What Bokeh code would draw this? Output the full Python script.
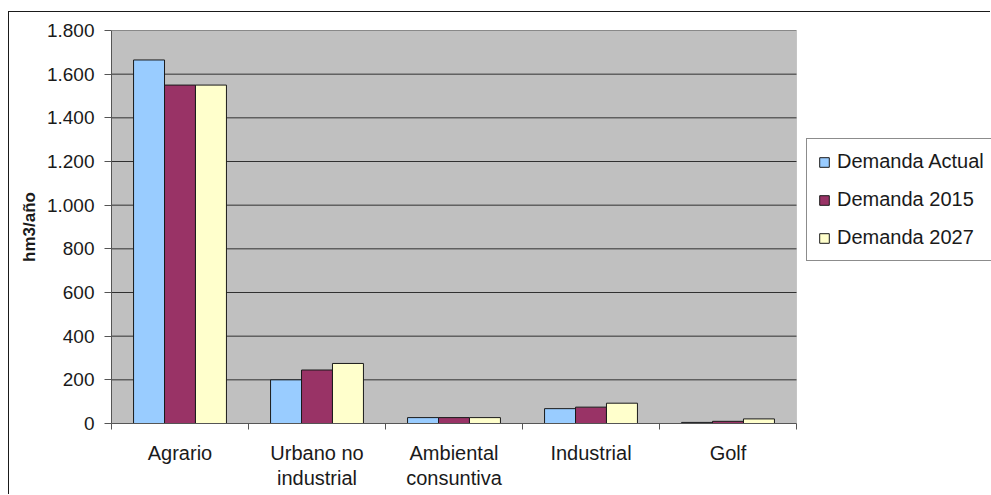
from bokeh.plotting import figure
from bokeh.models import (ColumnDataSource, FixedTicker, Legend, LegendItem, Range1d,
                          BoxAnnotation)
from bokeh.embed import file_html
from bokeh.resources import INLINE

categories = ["Agrario", "Urbano no\nindustrial", "Ambiental\nconsuntiva", "Industrial", "Golf"]
series_names = ["Demanda Actual", "Demanda 2015", "Demanda 2027"]
demanda_actual = [1665, 200, 27, 68, 5]
demanda_2015 = [1550, 245, 27, 75, 10]
demanda_2027 = [1550, 275, 27, 93, 21]
y_ticks = [0, 200, 400, 600, 800, 1000, 1200, 1400, 1600, 1800]
y_tick_labels = ["0", "200", "400", "600", "800", "1.000", "1.200", "1.400", "1.600", "1.800"]
colors = ["#99CCFF", "#993366", "#FFFFCC"]

FONT = "Liberation Sans"
TXT = "#1a1a1a"

FIG_W, FIG_H = 982, 483
BORDER_L = 102
PLOT_W = 685          # width in pixels of the grey plot area
FRAME_W = FIG_W - BORDER_L
n = len(categories)
x_end = n * FRAME_W / PLOT_W

p = figure(width=FIG_W, height=FIG_H, output_backend="svg", toolbar_location=None,
           x_range=Range1d(0, x_end), y_range=Range1d(0, y_ticks[-1]),
           min_border_left=BORDER_L, min_border_right=0, min_border_top=18,
           min_border_bottom=72)
p.styles = {"margin-left": "8px", "margin-top": "11px",
            "border-left": "1px solid #1a1a1a", "border-top": "1px solid #1a1a1a"}
p.border_fill_color = "white"
p.background_fill_color = "white"
p.outline_line_color = None

# grey plot area
area = BoxAnnotation(left=0, right=n, bottom=0, top=y_ticks[-1],
                     fill_color="#C0C0C0", fill_alpha=1,
                     line_color="#8a8a8a", line_width=1, level="underlay")
p.add_layout(area)

# grid lines
p.xgrid.visible = False
p.ygrid.visible = False
p.segment(x0=[0] * (len(y_ticks) - 1), x1=[n] * (len(y_ticks) - 1),
          y0=y_ticks[1:], y1=y_ticks[1:], line_color="#303030", line_width=1)

bar_w = 0.226
offsets = [-bar_w, 0.0, bar_w]
series = [demanda_actual, demanda_2015, demanda_2027]
renderers = []
for vals, off, col in zip(series, offsets, colors):
    xs = [i + 0.5 + off for i in range(n)]
    src = ColumnDataSource(dict(x=xs, top=vals))
    r = p.vbar(x="x", top="top", width=bar_w, bottom=0, source=src,
               fill_color=col, line_color=TXT, line_width=1)
    renderers.append(r)

# y axis
p.yaxis.ticker = FixedTicker(ticks=y_ticks)
p.yaxis.major_label_overrides = {t: l for t, l in zip(y_ticks, y_tick_labels)}
p.yaxis.axis_label = "hm3/año"
p.yaxis.axis_label_text_font = FONT
p.yaxis.axis_label_text_font_style = "bold"
p.yaxis.axis_label_text_font_size = "17px"
p.yaxis.axis_label_text_color = TXT
p.yaxis.axis_label_standoff = 5
p.yaxis.major_label_text_font = FONT
p.yaxis.major_label_text_font_size = "19px"
p.yaxis.major_label_text_color = TXT
p.yaxis.major_label_standoff = 10
p.yaxis.axis_line_color = "#555555"
p.yaxis.major_tick_line_color = "#555555"
p.yaxis.major_tick_out = 7
p.yaxis.major_tick_in = 0
p.yaxis.minor_tick_line_color = None

# x axis: labels at centres, ticks at boundaries
centers = [i + 0.5 for i in range(n)]
bounds = list(range(n + 1))
p.xaxis.ticker = FixedTicker(ticks=centers, minor_ticks=bounds)
p.xaxis.bounds = (0, n)
p.xaxis.major_label_overrides = {c: l for c, l in zip(centers, categories)}
p.xaxis.major_label_text_font = FONT
p.xaxis.major_label_text_font_size = "20px"
p.xaxis.major_label_text_color = TXT
p.xaxis.major_label_text_line_height = 1.15
p.xaxis.major_label_standoff = 12
p.xaxis.major_tick_line_color = None
p.xaxis.major_tick_out = 6
p.xaxis.major_tick_in = 0
p.xaxis.minor_tick_line_color = "#555555"
p.xaxis.minor_tick_out = 6
p.xaxis.minor_tick_in = 0
p.xaxis.axis_line_color = "#555555"

legend = Legend(items=[LegendItem(label=nm, renderers=[r]) for nm, r in zip(series_names, renderers)],
                location=(695, 162))
legend.label_text_font = FONT
legend.label_text_font_size = "20px"
legend.label_text_color = TXT
legend.glyph_width = 12
legend.glyph_height = 12
legend.label_standoff = 7
legend.spacing = 15
legend.padding = 11
legend.margin = 0
legend.border_line_color = TXT
legend.border_line_width = 1
legend.background_fill_color = "white"
legend.background_fill_alpha = 1
p.add_layout(legend, "center")

open("out.html", "w").write(file_html(p, INLINE))
